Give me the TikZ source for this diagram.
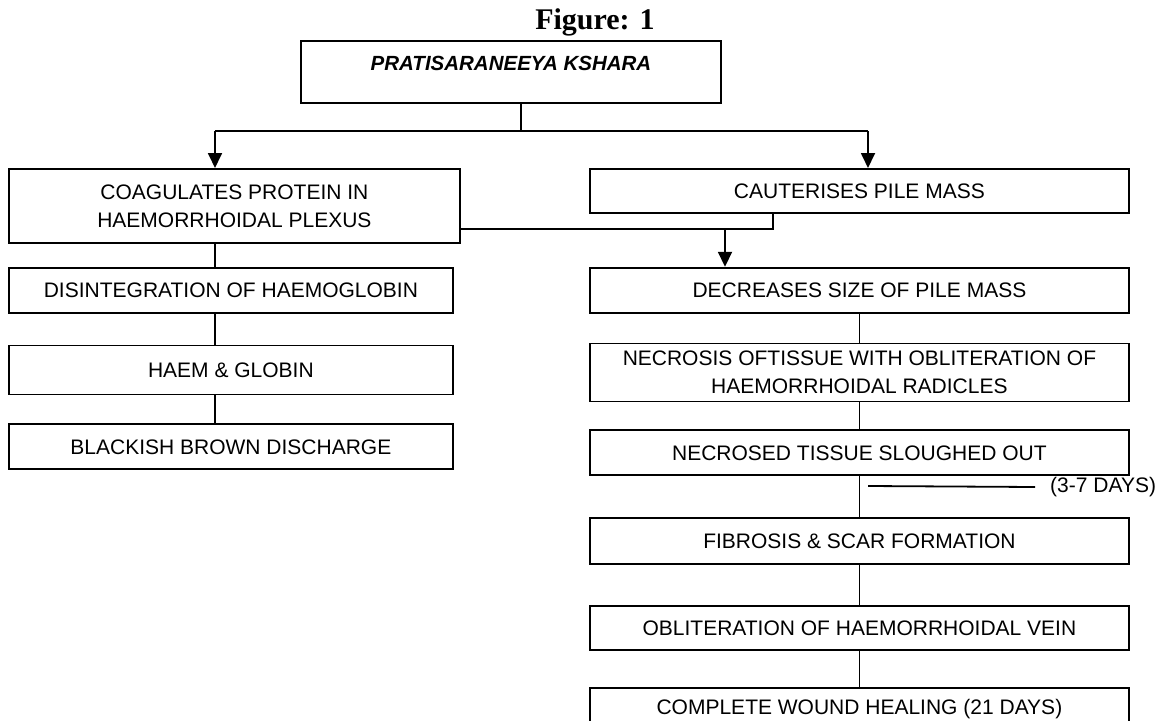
\documentclass[tikz,border=0pt]{standalone}
\usepackage{fontspec}
\setmainfont{Liberation Sans}
\newfontfamily\titlefont{Liberation Serif}
\usetikzlibrary{positioning,arrows.meta}

\tikzset{
  flowbox/.style={draw, line width=1.8pt, inner sep=0pt, align=center,
    font=\fontsize{21}{28}\selectfont},
  leftbox/.style={flowbox, minimum width=444pt, minimum height=45pt},
  rightbox/.style={flowbox, minimum width=539pt, minimum height=44pt},
  link/.style={line width=1.8pt},
  linkarrow/.style={link, -{Triangle[length=15pt,width=14pt]}},
}

\begin{document}
\begin{tikzpicture}[x=1pt,y=-1pt]
\useasboundingbox (0,0) rectangle (1164,720);
\node[font=\titlefont\bfseries\fontsize{30}{30}\selectfont] (title) at (595,22) {Figure: 1};
\node[flowbox, minimum width=420pt, minimum height=62pt, text height=15pt, text depth=19pt,
  font=\bfseries\itshape\fontsize{20.5}{24}\selectfont] (kshara) at (511,72) {PRATISARANEEYA KSHARA};
% left side
\node[flowbox, anchor=north west, minimum width=451pt, minimum height=74pt] (coag) at (8,168)
  {COAGULATES PROTEIN IN\\HAEMORRHOIDAL PLEXUS};
\node[leftbox, below=23pt of coag.south west, anchor=north west] (disint) {DISINTEGRATION OF HAEMOGLOBIN};
\node[leftbox, below=31pt of disint.south west, anchor=north west, minimum height=49pt] (haem) {HAEM \& GLOBIN};
\node[leftbox, below=28pt of haem.south west, anchor=north west] (black) {BLACKISH BROWN DISCHARGE};
% right side
\node[rightbox, anchor=north west] (caut) at (589,168) {CAUTERISES PILE MASS};
\node[rightbox, below=53pt of caut, minimum height=45pt] (decr) {DECREASES SIZE OF PILE MASS};
\node[rightbox, below=29pt of decr, minimum height=58pt] (necr)
  {NECROSIS OFTISSUE WITH OBLITERATION OF\\HAEMORRHOIDAL RADICLES};
\node[rightbox, below=27pt of necr, minimum height=45pt] (slough) {NECROSED TISSUE SLOUGHED OUT};
\node[rightbox, below=41pt of slough, minimum height=46pt] (fibr) {FIBROSIS \& SCAR FORMATION};
\node[rightbox, below=40pt of fibr] (oblit) {OBLITERATION OF HAEMORRHOIDAL VEIN};
\node[rightbox, below=36pt of oblit, minimum height=43pt] (heal) {COMPLETE WOUND HEALING (21 DAYS)};
\node[font=\fontsize{21}{28}\selectfont, inner sep=0pt, anchor=west] (days) at (1050,487) {(3-7 DAYS)};

% connectors
\coordinate (split) at (521,131);
\coordinate (lbus) at (215,131);
\coordinate (rbus) at (868,131);
\coordinate (merge) at (773,229);
\coordinate (drop) at (725,229);
\draw[link] (split |- kshara.south) -- (split);
\draw[link] (lbus) -- (rbus);
\draw[linkarrow] (lbus) -- (lbus |- coag.north);
\draw[linkarrow] (rbus) -- (rbus |- caut.north);
\draw[link] (coag.east |- merge) -- (merge) -- (merge |- caut.south);
\draw[linkarrow] (drop) -- (drop |- decr.north);
\foreach \a/\b in {coag/disint,disint/haem,haem/black}
  \draw[link] (lbus |- \a.south) -- (lbus |- \b.north);
\foreach \a/\b in {decr/necr,necr/slough,slough/fibr,fibr/oblit,oblit/heal}
  \draw[link] (\a) -- (\b);
\draw[link] (868,486) -- ([xshift=-15pt]days.west);
\end{tikzpicture}
\end{document}
